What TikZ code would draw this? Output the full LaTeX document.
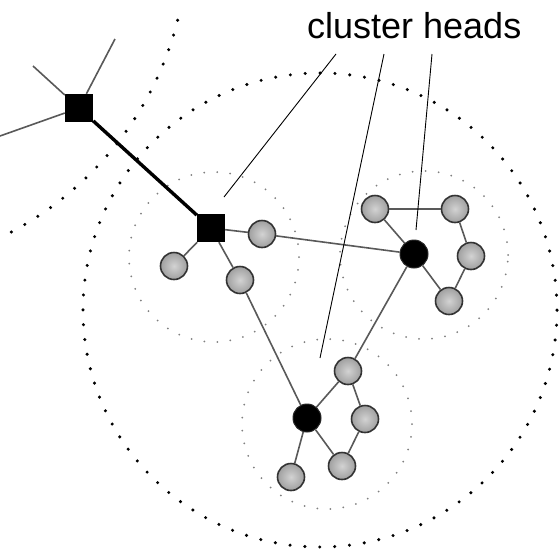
\documentclass[tikz,border=0pt]{standalone}
\usepackage{fontspec}
\setmainfont{Liberation Sans}
\begin{document}
\begin{tikzpicture}[x=1pt,y=-1pt,
  sqnode/.style={rectangle, fill=black, inner sep=0pt, minimum size=28pt},
  headnode/.style={circle, fill=black, draw=black!85, line width=1pt, inner sep=0pt, minimum size=28pt},
  member/.style={circle, draw=black!80, line width=1.6pt, inner sep=0pt, minimum size=27pt,
    shading=radial, inner color=gray!35, outer color=gray!75},
  edge/.style={draw=black!65, line width=1.6pt},
  leader/.style={draw=black, line width=0.9pt},
  bigring/.style={draw=black, line width=3.4pt, line cap=round},
  smallring/.style={draw=black!50, line width=2pt, line cap=round}
]
\useasboundingbox (0,0) rectangle (559,552);
\fill[white] (0,0) rectangle (559,552);

% dotted cluster boundaries
\begin{scope}
\clip (0,0) rectangle (559,552);
\coordinate (cbig) at (320,310);
\coordinate (cleft) at (-145,-62);
\coordinate (c1) at (214,257);
\coordinate (c2) at (424,255);
\coordinate (c3) at (327,424);
\draw[bigring, dash pattern=on 0pt off 14.89pt] (cbig) circle[radius=237pt];
\draw[bigring, dash pattern=on 0pt off 15.4pt] (cleft) ++(-14.3:333pt) arc[start angle=-14.3, end angle=-72, radius=333pt];
\draw[smallring, dash pattern=on 0pt off 13.03pt] (c1) circle[radius=85pt];
\draw[smallring, dash pattern=on 0pt off 13.03pt] (c2) circle[radius=84pt];
\draw[smallring, dash pattern=on 0pt off 13.03pt] (c3) circle[radius=85pt];
\end{scope}

% free ends
\coordinate (e1) at (33,66);
\coordinate (e2) at (115,39);
\coordinate (e3) at (0,136);

% nodes
\node[sqnode] (sq1) at (79,108) {};
\node[sqnode] (sq2) at (211,228) {};
\node[member] (g1) at (262,234) {};
\node[member] (g2) at (174,266) {};
\node[member] (g3) at (240,280) {};
\node[headnode] (h1) at (414,254) {};
\node[member] (g4) at (375,209) {};
\node[member] (g5) at (455,209) {};
\node[member] (g6) at (471,256) {};
\node[member] (g7) at (449,301) {};
\node[headnode] (h2) at (307,418) {};
\node[member] (g8) at (348,371) {};
\node[member] (g9) at (365,419) {};
\node[member] (g10) at (342,466) {};
\node[member] (g11) at (291,477) {};

% edges
\path[edge] (sq1) -- (e1);
\path[edge] (sq1) -- (e2);
\path[edge] (sq1) -- (e3);
\draw[black, line width=3.4pt] (sq1) -- (sq2);
\path[edge] (sq2) -- (g1);
\path[edge] (sq2) -- (g2);
\path[edge] (sq2) -- (g3);
\path[edge] (g1) -- (h1);
\path[edge] (g3) -- (h2);
\path[edge] (h1) -- (g4);
\path[edge] (g4) -- (g5);
\path[edge] (g5) -- (g6);
\path[edge] (g6) -- (g7);
\path[edge] (g7) -- (h1);
\path[edge] (h1) -- (g8);
\path[edge] (g8) -- (h2);
\path[edge] (g8) -- (g9);
\path[edge] (g9) -- (g10);
\path[edge] (g10) -- (h2);
\path[edge] (h2) -- (g11);

% label and leaders
\node[anchor=base west, inner sep=0pt, font=\fontsize{36}{40}\selectfont] (lbl) at (307,38) {cluster heads};
\coordinate (l1s) at (336,54);
\coordinate (l1e) at (224,197);
\coordinate (l2s) at (384,54);
\coordinate (l2e) at (320,358);
\coordinate (l3s) at (432,54);
\coordinate (l3e) at (416,230);
\draw[leader] (l1s) -- (l1e);
\draw[leader] (l2s) -- (l2e);
\draw[leader] (l3s) -- (l3e);
\end{tikzpicture}
\end{document}
